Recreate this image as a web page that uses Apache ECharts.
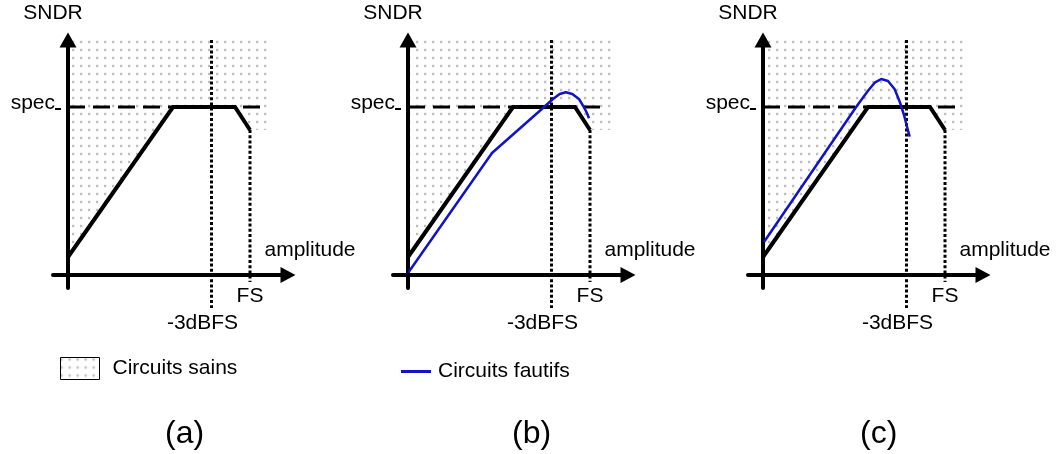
<!DOCTYPE html>
<html>
<head>
<meta charset="utf-8">
<script src="https://cdn.jsdelivr.net/npm/echarts@6/dist/echarts.min.js"></script>
<style>
  html, body { margin: 0; padding: 0; background: #fff; }
  #chart { width: 1056px; height: 454px; }
</style>
</head>
<body>
<div id="chart"></div>
<script>
// Amplitude (x) and SNDR (y) in arbitrary units; (0, 0) is where the axes cross.
const healthyCurve = [[0, 18], [105, 168], [167, 168], [182, 145]];
const healthyZone  = [[0, 18], [105, 168], [167, 168], [182, 145], [204, 145]];
const faultyB = [[0, 2], [84, 122], [135, 167], [145, 176], [151.7, 181],
                 [157.7, 182.7], [164.3, 181], [171, 176], [176, 167.7], [179, 161.7], [181, 156.7]];
const faultyC = [[1, 33], [93.3, 168.3], [105, 184.3], [111.7, 192.3], [118.3, 196], [125, 194],
                 [131.7, 185.7], [136.7, 173.3], [141, 160], [144, 148.3], [146.7, 138.3]];
const specLevel = 168;
const specLineEnd = 197;
const fsAmplitude = 182;
const minus3dBFSAmplitude = 143.5;
const xLabels = { fs: 'FS', db: '-3dBFS' };
const panelTitles = ['(a)', '(b)', '(c)'];
const legendNames = ['Circuits sains', 'Circuits fautifs'];

const FONT = '"Liberation Sans", Arial, Helvetica, sans-serif';
const X_RANGE = [-15, 220];
const Y_RANGE = [-13, 235];
const BLUE = '#1212c6';

// light dotted texture for the "healthy" zone
function dotPattern() {
  const c = document.createElement('canvas');
  c.width = 8; c.height = 8;
  const g = c.getContext('2d');
  g.fillStyle = 'rgba(190,190,190,0.45)';
  g.fillRect(-0.5, 0.5, 3, 3);
  g.fillStyle = '#bdbdbd';
  g.fillRect(0, 1, 2, 2);
  return c;
}
const dots = { image: dotPattern(), repeat: 'repeat' };

const gridLefts = [53, 393, 748];
const faultyByPanel = [null, faultyB, faultyC];

const grid = [], xAxis = [], yAxis = [], series = [];

gridLefts.forEach((left, i) => {
  grid.push({ left: left, top: 40, width: 235, height: 248, outerBoundsMode: 'none', containLabel: false });

  xAxis.push({
    gridIndex: i, type: 'value', min: X_RANGE[0], max: X_RANGE[1], z: 3,
    axisLine: { onZero: true, lineStyle: { color: '#000', width: 4 },
                symbol: ['none', 'triangle'], symbolSize: [16, 15] },
    axisTick: { show: false }, splitLine: { show: false },
    axisLabel: {
      customValues: [minus3dBFSAmplitude, fsAmplitude], margin: -2,
      formatter: v => v === fsAmplitude ? '{fs|' + xLabels.fs + '}' : '{db|' + xLabels.db + '}',
      rich: {
        fs: { fontSize: 21, fontFamily: FONT, color: '#000' },
        db: { fontSize: 21, fontFamily: FONT, color: '#000', padding: [27, 18, 0, 0] }
      }
    },
    name: 'amplitude', nameLocation: 'end', nameGap: 22,
    nameTextStyle: { fontSize: 21, fontFamily: FONT, color: '#000', align: 'center',
                     verticalAlign: 'bottom', padding: [0, 0, 14, 0] }
  });

  yAxis.push({
    gridIndex: i, type: 'value', min: Y_RANGE[0], max: Y_RANGE[1], z: 3,
    axisLine: { onZero: true, lineStyle: { color: '#000', width: 4 },
                symbol: ['none', 'triangle'], symbolSize: [17, 15] },
    axisTick: { show: false }, splitLine: { show: false },
    axisLabel: {
      customValues: [specLevel], margin: -8,
      formatter: () => '{s|spec}{u| }',
      padding: [0, 0, 8, 0],
      rich: {
        s: { fontSize: 21, fontFamily: FONT, color: '#000', lineHeight: 14 },
        u: { fontSize: 4, width: 6, height: 2, backgroundColor: '#000', verticalAlign: 'bottom' }
      }
    },
    name: 'SNDR', nameLocation: 'end', nameGap: 16,
    nameTextStyle: { fontSize: 21, fontFamily: FONT, color: '#000', padding: [0, 30, 0, 0] }
  });

  const ax = { xAxisIndex: i, yAxisIndex: i, symbol: 'none', silent: true, animation: false };

  // healthy zone: everything above the healthy SNDR curve
  series.push(Object.assign({
    type: 'line', name: legendNames[0], data: healthyZone, z: 1,
    lineStyle: { width: 0, opacity: 0 },
    areaStyle: { color: dots, opacity: 1, origin: 'end' }
  }, ax));

  // spec level
  series.push(Object.assign({
    type: 'line', data: [[0, specLevel], [specLineEnd, specLevel]], z: 2,
    lineStyle: { color: '#000', width: 3, type: [17, 8] }
  }, ax));

  // -3dBFS and FS guides
  series.push(Object.assign({
    type: 'line', data: [[minus3dBFSAmplitude, Y_RANGE[1]], [minus3dBFSAmplitude, -33]], z: 2, clip: false,
    lineStyle: { color: '#000', width: 3, type: [3, 2.2] }
  }, ax));
  series.push(Object.assign({
    type: 'line', data: [[fsAmplitude, healthyCurve[healthyCurve.length - 1][1]], [fsAmplitude, -7]], z: 2, clip: false,
    lineStyle: { color: '#000', width: 3, type: [3, 2.2] }
  }, ax));

  // healthy circuit SNDR
  series.push(Object.assign({
    type: 'line', data: healthyCurve, z: 4,
    lineStyle: { color: '#000', width: 4, join: 'miter', cap: 'butt' }
  }, ax));

  // faulty circuit SNDR
  if (faultyByPanel[i]) {
    series.push(Object.assign({
      type: 'line', name: legendNames[1], data: faultyByPanel[i], z: 5, color: BLUE,
      lineStyle: { color: BLUE, width: 2.5, join: 'round' }
    }, ax));
  }
});

const titleLefts = [165, 512, 860];

const option = {
  animation: false,
  backgroundColor: '#fff',
  textStyle: { fontFamily: FONT },
  grid, xAxis, yAxis, series,
  title: panelTitles.map((t, i) => ({
    text: t, left: titleLefts[i], top: 418, padding: 0,
    textStyle: { fontSize: 32, fontWeight: 'normal', color: '#000', fontFamily: FONT }
  })),
  legend: [
    {
      data: [{ name: legendNames[0], icon: 'rect',
               itemStyle: { color: dots, borderColor: '#000', borderWidth: 1 } }],
      left: 60, top: 357, padding: 0, itemWidth: 39, itemHeight: 22, selectedMode: false,
      textStyle: { fontSize: 21, fontFamily: FONT, color: '#000', padding: [0, 0, 0, 8] }
    },
    {
      data: [{ name: legendNames[1], icon: 'rect', itemStyle: { color: BLUE } }],
      left: 401, top: 361, padding: 0, itemWidth: 30, itemHeight: 3, selectedMode: false,
      textStyle: { fontSize: 21, fontFamily: FONT, color: '#000', padding: [0, 0, 0, 2] }
    }
  ]
};

const chart = echarts.init(document.getElementById('chart'), null, { renderer: 'canvas' });
chart.setOption(option);
</script>
</body>
</html>
